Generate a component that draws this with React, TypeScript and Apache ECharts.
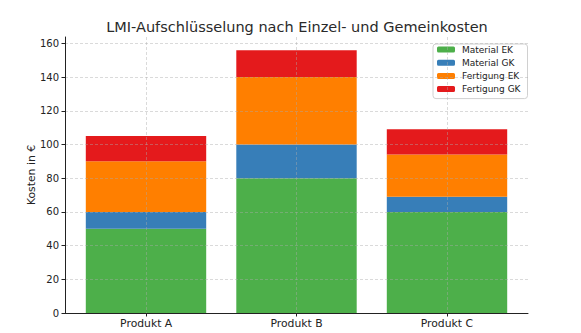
import React, { useEffect, useRef } from "react";
import * as echarts from "echarts";

const categories = ["Produkt A", "Produkt B", "Produkt C"];
const materialEK = [50, 80, 60];
const materialGK = [10, 20, 9];
const fertigungEK = [30, 40, 25];
const fertigungGK = [15, 16, 15];
const seriesNames = ["Material EK", "Material GK", "Fertigung EK", "Fertigung GK"];
const seriesColors = ["#4daf4a", "#377eb8", "#ff7f00", "#e41a1c"];
const yTicks = [0, 20, 40, 60, 80, 100, 120, 140, 160];
const xTicks = [0, 1, 2];

const FONT = "DejaVu Sans, sans-serif";
const Y_MAX = 163.8;

export default function App() {
  const ref = useRef<HTMLDivElement>(null);
  useEffect(() => {
    document.body.style.margin = "0";
    if (!ref.current) return;
    const chart = echarts.init(ref.current, undefined, { renderer: "svg" });
    const allData = [materialEK, materialGK, fertigungEK, fertigungGK];
    const gridLine = {
      show: true,
      lineStyle: { color: "rgba(170,170,170,0.55)", type: [3, 2] as any, width: 0.8 },
    };
    chart.setOption({
      animation: false,
      textStyle: { fontFamily: FONT },
      title: {
        text: "LMI-Aufschlüsselung nach Einzel- und Gemeinkosten",
        left: 292,
        textAlign: "center",
        top: 14,
        textStyle: { fontFamily: FONT, fontSize: 14.5, fontWeight: "normal", color: "#2a2a2a" },
      },
      legend: {
        orient: "vertical",
        left: 433,
        top: 44,
        itemWidth: 18,
        itemHeight: 6,
        itemGap: 2.2,
        padding: [0, 7, 4, 4],
        borderColor: "#d0d0d0",
        borderWidth: 1,
        borderRadius: 3,
        data: seriesNames,
        textStyle: { fontFamily: FONT, fontSize: 9, color: "#222", padding: [0, 0, 0, 2], lineHeight: 11 },
        itemStyle: { borderWidth: 0 },
      },
      grid: [
        { left: 65, right: 53, top: 37, bottom: 20, containLabel: false },
        { left: 70.75, right: 58.75, top: 37, bottom: 20, containLabel: false },
      ],
      xAxis: [
        {
          type: "value",
          gridIndex: 0,
          min: -0.54,
          max: 2.54,
          z: 10,
          axisLine: { show: true, onZero: false, lineStyle: { color: "#222", width: 1 } },
          axisTick: { show: true, customValues: xTicks, length: 3.5, lineStyle: { color: "#222" } },
          axisLabel: {
            customValues: xTicks,
            formatter: (v: number) => categories[Math.round(v)] ?? "",
            fontFamily: FONT,
            fontSize: 10.8,
            color: "#222",
            margin: 4.5,
          },
          splitLine: gridLine,
        },
        {
          type: "category",
          gridIndex: 1,
          data: categories,
          show: false,
        },
      ],
      yAxis: [
        {
          type: "value",
          gridIndex: 0,
          min: 0,
          max: Y_MAX,
          z: 10,
          name: "Kosten in €",
          nameLocation: "middle",
          nameGap: 28,
          nameMoveOverlap: false,
          nameTextStyle: { fontFamily: FONT, fontSize: 10.8, color: "#222" },
          axisLine: { show: true, onZero: false, lineStyle: { color: "#222", width: 1 } },
          axisTick: { show: true, customValues: yTicks, length: 3.5, lineStyle: { color: "#222" } },
          axisLabel: {
            customValues: yTicks,
            fontFamily: FONT,
            fontSize: 10,
            color: "#222",
            margin: 6,
          },
          splitLine: gridLine,
        },
        {
          type: "value",
          gridIndex: 1,
          min: 0,
          max: Y_MAX,
          show: false,
          splitLine: { show: false },
        },
      ],
      series: seriesNames.map((name, i) => ({
        name,
        type: "bar",
        stack: "total",
        xAxisIndex: 1,
        yAxisIndex: 1,
        barWidth: "80%",
        itemStyle: { color: seriesColors[i] },
        data: allData[i],
      })),
    });
    return () => chart.dispose();
  }, []);
  return <div ref={ref} style={{ width: 581, height: 333 }} />;
}
